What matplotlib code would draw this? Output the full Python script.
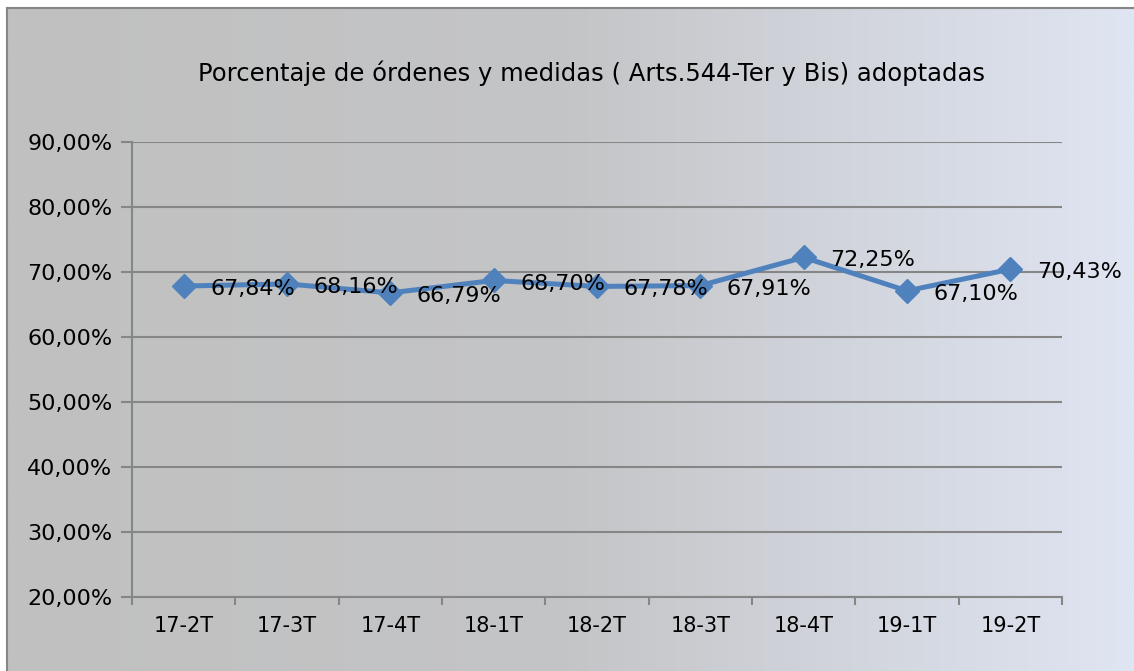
import numpy as np
import matplotlib
matplotlib.use("Agg")
import matplotlib.pyplot as plt
from matplotlib.colors import LinearSegmentedColormap
from matplotlib.ticker import FuncFormatter, MultipleLocator

categories = ["17-2T", "17-3T", "17-4T", "18-1T", "18-2T", "18-3T", "18-4T", "19-1T", "19-2T"]
values = [67.84, 68.16, 66.79, 68.70, 67.78, 67.91, 72.25, 67.10, 70.43]
title = "Porcentaje de órdenes y medidas ( Arts.544-Ter y Bis) adoptadas"

W, H = 1134, 671
fig = plt.figure(figsize=(W / 100, H / 100), dpi=100)
fig.patch.set_facecolor("white")
plt.rcParams['font.family'] = ['DejaVu Sans']

# gradient background
bg = fig.add_axes([7 / W, 0, 1 - 7 / W, 1 - 8 / H], zorder=0)
grad = np.linspace(0, 1, 512).reshape(1, -1)
cmap = LinearSegmentedColormap.from_list("bg", ["#C0C0C0", "#C4C5C7", "#DFE5F2"])
bg.imshow(grad, aspect="auto", cmap=cmap, extent=[0, 1, 0, 1])
bg.set_xlim(0, 1); bg.set_ylim(0, 1)
bg.set_xticks([]); bg.set_yticks([])
for s in ["right", "bottom"]:
    bg.spines[s].set_visible(False)
for s in ["left", "top"]:
    bg.spines[s].set_color("#868686")
    bg.spines[s].set_linewidth(1.5)

ax = fig.add_axes([132 / W, 1 - 597 / H, (1062 - 132) / W, (597 - 142) / H], zorder=1)
ax.patch.set_alpha(0)
x = np.arange(len(categories))
ax.plot(x, values, color="#4F81BD", lw=3.6, marker="D", ms=12.5, mec="#4F81BD", mfc="#4F81BD", zorder=3, clip_on=False)
for xi, v in zip(x, values):
    ax.annotate(f"{v:.2f}%".replace(".", ","), (xi, v), xytext=(19, -2.2), textcoords="offset points",
                ha="left", va="center", fontsize=16, color="black", zorder=4)

ax.set_xlim(-0.5, len(categories) - 0.5)
ax.set_ylim(20, 90)
ax.yaxis.set_major_locator(MultipleLocator(10))
ax.yaxis.set_major_formatter(FuncFormatter(lambda v, p: f"{v:.2f}%".replace(".", ",")))
ax.grid(axis="y", color="#868686", lw=1.5, zorder=1)
ax.set_axisbelow(True)
ax.set_xticks(x)
ax.set_xticklabels(categories)
ax.set_xticks(np.arange(-0.5, len(categories), 1), minor=True)
ax.tick_params(axis="x", which="major", length=0, pad=14, labelsize=15)
ax.tick_params(axis="x", which="minor", length=6, width=1.5, color="#868686")
ax.tick_params(axis="y", length=8, width=1.5, color="#868686", pad=6, labelsize=16)
for s in ["top", "right"]:
    ax.spines[s].set_visible(False)
for s in ["left", "bottom"]:
    ax.spines[s].set_color("#868686")
    ax.spines[s].set_linewidth(1.5)

fig.text(591 / W, 1 - 73 / H, title, ha="center", va="center", fontsize=17.5, color="black")

fig.savefig("out.png", dpi=100)
